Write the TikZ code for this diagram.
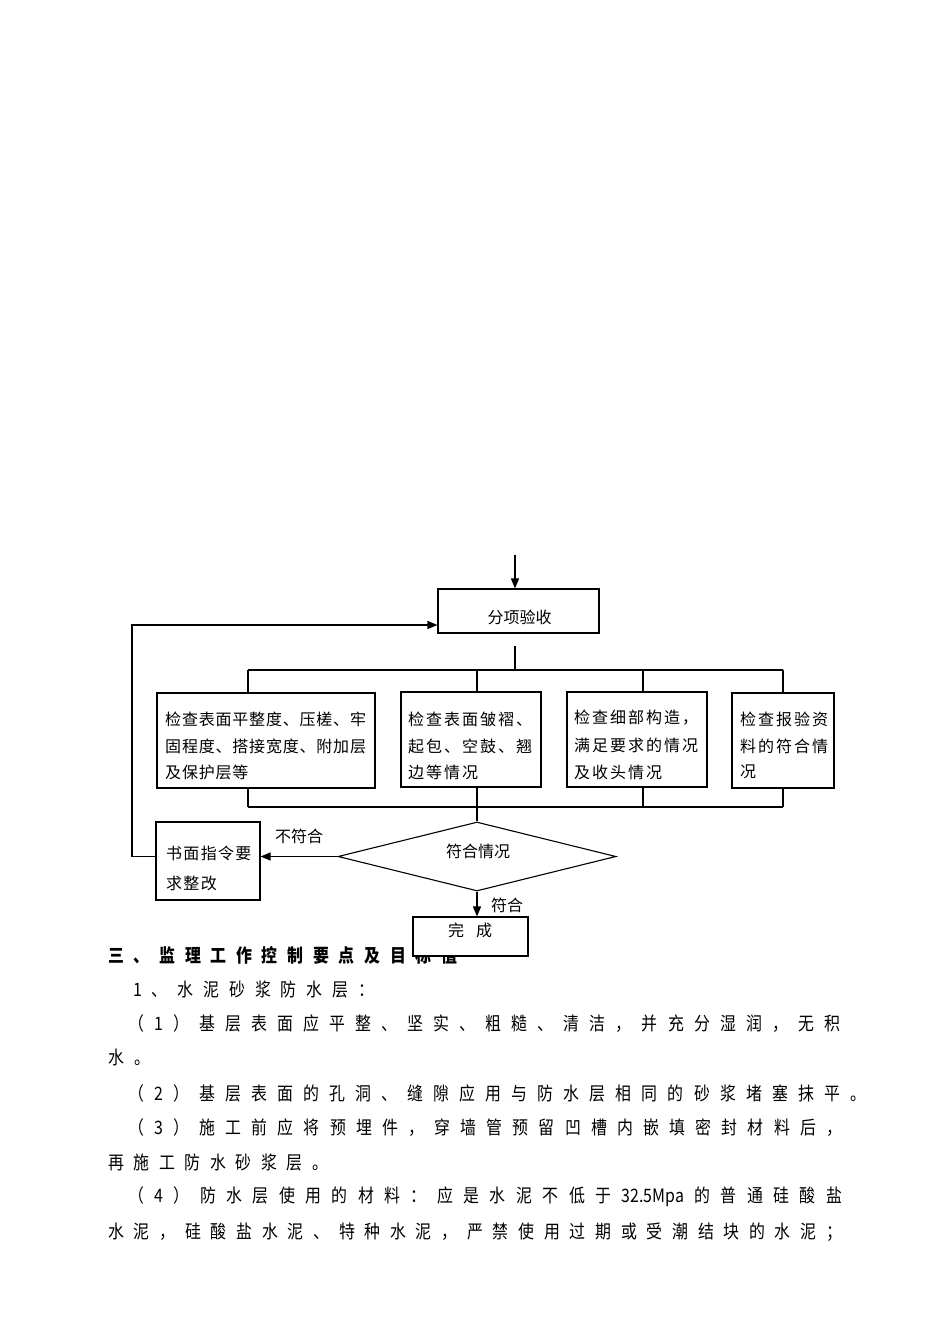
\documentclass[tikz,border=0pt]{standalone}
\usepackage{fontspec}
\usetikzlibrary{arrows.meta,shapes.geometric}
\newfontfamily\cjk{Noto Sans CJK SC}
\newfontfamily\cjkbody[FakeStretch=0.86]{Noto Sans CJK SC}
% evenly spread tokens over a given width
\newcommand\spreadto[2]{\hbox to #1{\spfirst#2\relax}}
\def\spfirst#1{\mbox{#1}\spnext}
\def\spnext#1{\ifx\relax#1\else\hfill\mbox{#1}\expandafter\spnext\fi}
% tokens at a fixed pitch
\newcommand\pitched[2]{\hbox{\def\cpitch{#1}\pitchloop#2\relax}}
\def\pitchloop#1{\ifx\relax#1\else\makebox[\cpitch][l]{#1}\expandafter\pitchloop\fi}
\tikzset{
  ln/.style={line width=1.1pt},
  arr/.style={line width=1.1pt,-{Triangle[length=10pt,width=8pt]}},
  box/.style={draw,line width=1.1pt,rectangle,inner sep=0pt,fill=white},
  ftext/.style={inner sep=0pt,font=\cjk\fontsize{16pt}{16pt}\selectfont},
  btext/.style={inner sep=0pt,anchor=west,font=\cjk\fontsize{16pt}{16pt}\selectfont},
  body/.style={inner sep=0pt,anchor=west,font=\cjkbody\fontsize{18.5pt}{18.5pt}\selectfont},
  head/.style={inner sep=0pt,anchor=west,font=\cjkbody\bfseries\fontsize{18.5pt}{18.5pt}\selectfont}
}
\begin{document}
\begin{tikzpicture}[x=1pt,y=-1pt]
\fill[white] (0,0) rectangle (950,1344);
\useasboundingbox (0,0) rectangle (950,1344);

% boxes
\node[box,minimum width=161pt,minimum height=44pt] (fx) at (518.5,611) {};
\node[ftext] (fxt) at (519.5,617) {分项验收};
\node[box,minimum width=218pt,minimum height=95pt] (b1) at (266,740.5) {};
\node[box,minimum width=140pt,minimum height=95pt] (b2) at (471,739.5) {};
\node[box,minimum width=140pt,minimum height=95pt] (b3) at (637,739.5) {};
\node[box,minimum width=102pt,minimum height=95pt] (b4) at (783,740.5) {};
\node[box,minimum width=104pt,minimum height=78pt] (sm) at (208,861) {};
\node[draw,line width=1.1pt,diamond,inner sep=0pt,minimum width=278pt,minimum height=69pt] (dia) at (477,856.5) {};

% box texts
\node[btext] (b1a) at (165,719) {\pitched{16.8pt}{检查表面平整度、压槎、牢}};
\node[btext] (b1b) at (165,746) {\pitched{16.8pt}{固程度、搭接宽度、附加层}};
\node[btext] (b1c) at (165,772) {\pitched{16.8pt}{及保护层等}};
\node[btext] (b2a) at (408,719) {\pitched{18pt}{检查表面皱褶、}};
\node[btext] (b2b) at (408,746) {\pitched{18pt}{起包、空鼓、翘}};
\node[btext] (b2c) at (408,772) {\pitched{18pt}{边等情况}};
\node[btext] (b3a) at (574,718) {\pitched{18pt}{检查细部构造，}};
\node[btext] (b3b) at (574,745) {\pitched{18pt}{满足要求的情况}};
\node[btext] (b3c) at (574,772) {\pitched{18pt}{及收头情况}};
\node[btext] (b4a) at (740,719) {\pitched{18pt}{检查报验资}};
\node[btext] (b4b) at (740,746) {\pitched{18pt}{料的符合情}};
\node[btext] (b4c) at (740,772) {\pitched{18pt}{况}};
\node[btext] (sma) at (166,853) {\pitched{17.3pt}{书面指令要}};
\node[btext] (smb) at (166,883) {\pitched{17.3pt}{求整改}};
\node[ftext] (diat) at (478,851) {符合情况};
\node[ftext] (nfl) at (299,836) {不符合};
\node[ftext] (fl) at (507,905) {符合};

% connectors
\coordinate (top) at (515,555);
\draw[arr] (top) -- (top |- fx.north);
\coordinate (fxb) at (515,646);
\coordinate (busc) at (515,670);
\draw[ln] (fxb) -- (busc);
\coordinate (tb1) at (248,670);
\coordinate (tb2) at (477,670);
\coordinate (tb3) at (643,670);
\coordinate (tb4) at (783,670);
\draw[ln] (tb1) -- (tb4);
\draw[ln] (tb1) -- (tb1 |- b1.north);
\draw[ln] (tb2) -- (tb2 |- b2.north);
\draw[ln] (tb3) -- (tb3 |- b3.north);
\draw[ln] (tb4) -- (b4.north);
\coordinate (bb1) at (248,807);
\coordinate (bb2) at (477,807);
\coordinate (bb3) at (643,807);
\coordinate (bb4) at (783,807);
\draw[ln] (bb1) -- (bb4);
\draw[ln] (bb1 |- b1.south) -- (bb1);
\draw[ln] (bb2 |- b2.south) -- (bb2);
\draw[ln] (bb3 |- b3.south) -- (bb3);
\draw[ln] (b4.south) -- (bb4);
\draw[ln] (bb2) -- (dia.north);
\draw[arr] (dia.west) -- (dia.west -| sm.east);
\coordinate (fbL) at (132,856.5);
\coordinate (fbT) at (132,625);
\draw[arr] (dia.west -| sm.west) -- (fbL) -- (fbT) -- (fbT -| fx.west);

% heading and body text
\node[head] (h) at (108,955) {\spreadto{349pt}{三、监理工作控制要点及目标值}};
\node[box,minimum width=115pt,minimum height=39pt] (wc) at (470.5,936.5) {};
\node[btext] (wct) at (448,930) {\pitched{28pt}{完成}};
\draw[arr] (dia.south) -- (dia.south |- wc.north);

\node[body] (l1) at (133,990) {\spreadto{241pt}{1、水泥砂浆防水层：}};
\node[body] (l2) at (128,1024) {\spreadto{712pt}{（1）基层表面应平整、坚实、粗糙、清洁，并充分湿润，无积}};
\node[body] (l3) at (108,1057) {\spreadto{42pt}{水。}};
\node[body] (l4) at (128,1093) {\spreadto{738pt}{（2）基层表面的孔洞、缝隙应用与防水层相同的砂浆堵塞抹平。}};
\node[body] (l5) at (128,1128) {\spreadto{714pt}{（3）施工前应将预埋件，穿墙管预留凹槽内嵌填密封材料后，}};
\node[body] (l6) at (108,1163) {\spreadto{220pt}{再施工防水砂浆层。}};
\node[body] (l7) at (128,1197) {\spreadto{714pt}{（4）防水层使用的材料：应是水泥不低于{32.5Mpa}的普通硅酸盐}};
\node[body] (l8) at (108,1232) {\spreadto{734pt}{水泥，硅酸盐水泥、特种水泥，严禁使用过期或受潮结块的水泥；}};
\end{tikzpicture}
\end{document}
